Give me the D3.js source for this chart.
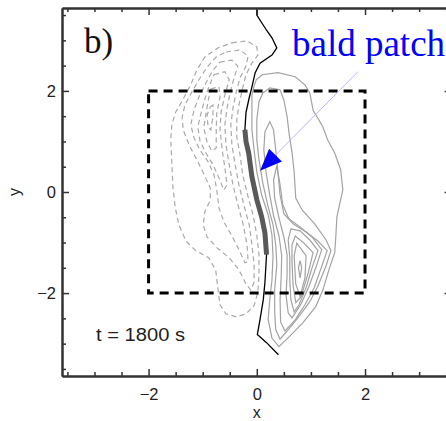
<!DOCTYPE html>
<html>
<head>
<meta charset="utf-8">
<script src="https://cdn.jsdelivr.net/npm/d3@7"></script>
<style>
  body { margin: 0; background: #fff; }
  svg { display: block; }
</style>
</head>
<body>
<svg id="chart" width="446" height="421"></svg>
<script>
// Polarity inversion line, traced top to bottom (x, y in Mm)
const pil = [
  [0.00, 3.64], [0.00, 3.50], [0.18, 3.20], [0.28, 3.05], [0.37, 2.85], [0.28, 2.71],
  [0.06, 2.55], [-0.03, 2.36], [-0.09, 2.08], [-0.15, 1.82], [-0.20, 1.57], [-0.22, 1.23],
  [-0.20, 1.00], [-0.15, 0.77], [-0.09, 0.30], [0.00, -0.15], [0.09, -0.49], [0.15, -0.81],
  [0.18, -1.24], [0.15, -1.79], [0.12, -2.13], [0.06, -2.52], [0.01, -2.82], [0.18, -2.98],
  [0.40, -3.22]
];
// y-extent of the bald-patch section of the inversion line
const baldPatchY = [-1.24, 1.23];

// Positive Bz contours (solid), outermost first
const posContours = [
  [[-0.01,2.22],[0.10,2.32],[0.39,2.36],[0.71,2.28],[0.89,2.12],[0.98,1.96],[1.04,1.62],[1.22,1.29],
   [1.31,1.03],[1.44,0.77],[1.55,0.44],[1.59,0.04],[1.55,-0.15],[1.48,-0.49],[1.46,-0.89],[1.44,-1.20],
   [1.35,-1.48],[1.22,-1.94],[1.09,-2.27],[0.85,-2.59],[0.61,-2.85],[0.41,-3.06],[0.28,-2.89],[0.21,-2.52],
   [0.24,-2.13],[0.28,-1.74],[0.30,-1.28],[0.28,-0.85],[0.21,-0.45],[0.09,-0.06],[0.00,0.40],[-0.05,0.83],
   [-0.09,1.23],[-0.09,1.62],[-0.09,1.92],[-0.05,2.10]],
  [[0.11,1.96],[0.24,2.06],[0.43,2.02],[0.50,1.82],[0.56,1.49],[0.60,1.13],[0.65,0.79],[0.69,0.40],
   [0.72,-0.12],[0.84,-0.36],[1.07,-0.63],[1.28,-0.95],[1.37,-1.16],[1.28,-1.46],[1.13,-1.86],[0.98,-2.17],
   [0.76,-2.49],[0.56,-2.75],[0.43,-2.91],[0.35,-2.72],[0.33,-2.37],[0.33,-1.93],[0.37,-1.44],[0.35,-1.05],
   [0.30,-0.65],[0.20,-0.25],[0.11,0.18],[0.04,0.64],[0.00,1.03],[0.00,1.43],[0.04,1.78]],
  [[0.24,1.39],[0.31,1.23],[0.35,0.83],[0.39,0.40],[0.43,-0.06],[0.50,-0.43],[0.67,-0.63],[0.91,-0.79],
   [1.13,-0.97],[1.30,-1.16],[1.19,-1.50],[1.06,-1.90],[0.89,-2.23],[0.71,-2.53],[0.52,-2.75],[0.44,-2.57],
   [0.43,-2.13],[0.45,-1.70],[0.46,-1.26],[0.41,-0.87],[0.31,-0.47],[0.24,-0.06],[0.17,0.40],[0.13,0.83],
   [0.15,1.19]],
  [[0.37,0.52],[0.43,0.14],[0.48,-0.25],[0.59,-0.53],[0.80,-0.69],[1.02,-0.89],[1.20,-1.14],[1.09,-1.50],
   [0.96,-1.88],[0.82,-2.21],[0.65,-2.49],[0.58,-2.39],[0.54,-2.03],[0.56,-1.64],[0.56,-1.24],[0.50,-0.89],
   [0.41,-0.51],[0.33,-0.12],[0.31,0.24]],
  [[0.63,-0.73],[0.80,-0.77],[0.98,-0.95],[1.13,-1.16],[1.02,-1.50],[0.91,-1.90],[0.78,-2.23],[0.69,-2.37],
   [0.63,-2.13],[0.61,-1.74],[0.61,-1.30],[0.58,-0.95]],
  [[0.71,-0.87],[0.87,-1.01],[1.04,-1.20],[0.95,-1.60],[0.82,-2.07],[0.72,-2.19],[0.67,-1.84],[0.65,-1.38],
   [0.65,-1.05]],
  [[0.74,-1.01],[0.91,-1.26],[0.89,-1.70],[0.80,-2.07],[0.72,-1.82],[0.69,-1.26]],
  [[0.80,-1.36],[0.83,-1.50],[0.80,-1.70],[0.77,-1.50]]
];

// Negative Bz contours (dashed), outermost first
const negContours = [
  [[-0.46,2.95],[-0.18,2.99],[0.00,2.87],[0.02,2.71],[-0.09,2.55],[-0.20,2.32],[-0.27,2.02],[-0.33,1.72],
   [-0.37,1.43],[-0.37,1.09],[-0.31,0.74],[-0.26,0.34],[-0.17,-0.06],[-0.07,-0.45],[0.00,-0.85],[0.04,-1.24],
   [0.04,-1.64],[0.02,-1.98],[-0.05,-2.25],[-0.20,-2.41],[-0.38,-2.47],[-0.57,-2.41],[-0.68,-2.23],[-0.72,-1.90],
   [-0.76,-1.54],[-0.89,-1.30],[-1.13,-1.16],[-1.31,-0.97],[-1.44,-0.65],[-1.51,-0.29],[-1.55,0.10],[-1.57,0.58],
   [-1.59,1.03],[-1.57,1.33],[-1.50,1.58],[-1.39,1.78],[-1.22,2.12],[-1.11,2.41],[-0.96,2.67],[-0.72,2.85]],
  [[-0.57,2.77],[-0.31,2.81],[-0.16,2.69],[-0.20,2.49],[-0.31,2.26],[-0.38,1.98],[-0.44,1.66],[-0.48,1.33],
   [-0.46,0.93],[-0.40,0.54],[-0.33,0.14],[-0.24,-0.25],[-0.14,-0.65],[-0.09,-1.05],[-0.05,-1.44],[-0.05,-1.78],
   [-0.11,-1.94],[-0.20,-1.82],[-0.33,-1.54],[-0.51,-1.30],[-0.74,-1.10],[-0.92,-0.89],[-0.99,-0.65],[-0.96,-0.39],
   [-0.86,-0.16],[-0.86,0.08],[-0.97,0.34],[-1.11,0.64],[-1.25,0.93],[-1.36,1.23],[-1.38,1.47],[-1.33,1.72],
   [-1.20,1.98],[-1.07,2.22],[-0.92,2.47],[-0.75,2.67]],
  [[-0.68,2.57],[-0.46,2.61],[-0.35,2.49],[-0.42,2.26],[-0.49,1.98],[-0.55,1.66],[-0.59,1.33],[-0.57,0.93],
   [-0.51,0.54],[-0.44,0.14],[-0.35,-0.25],[-0.25,-0.65],[-0.18,-1.05],[-0.16,-1.38],[-0.22,-1.40],[-0.33,-1.14],
   [-0.46,-0.87],[-0.61,-0.59],[-0.70,-0.31],[-0.74,0.04],[-0.79,0.34],[-0.90,0.60],[-1.05,0.83],[-1.16,1.07],
   [-1.22,1.33],[-1.16,1.62],[-1.07,1.88],[-0.94,2.16],[-0.81,2.41]],
  [[-0.79,2.32],[-0.59,2.38],[-0.51,2.22],[-0.59,1.92],[-0.66,1.58],[-0.68,1.23],[-0.64,0.83],[-0.59,0.48],
   [-0.55,0.14],[-0.61,0.04],[-0.70,0.28],[-0.81,0.54],[-0.94,0.77],[-1.05,1.01],[-1.09,1.29],[-1.03,1.56],
   [-0.96,1.84],[-0.88,2.10]],
  [[-0.85,2.04],[-0.70,2.08],[-0.68,1.88],[-0.74,1.56],[-0.75,1.23],[-0.75,0.87],[-0.83,0.81],[-0.92,0.99],
   [-0.98,1.27],[-0.94,1.54],[-0.90,1.80]],
  [[-0.86,1.68],[-0.81,1.72],[-0.81,1.49],[-0.85,1.23],[-0.90,1.29],[-0.92,1.52]]
];

// Dashed sub-region and annotation
const boxX = [-2, 2];
const boxY = [-2, 2];
const arrowTail = [1.87, 2.38];
const arrowTip = [0.06, 0.42];
const panelLabel = "b)";
const timeLabel = "t = 1800 s";
const patchLabel = "bald patch";

// Axes
const xDomain = [-3.6, 3.6];
const yDomain = [-3.64, 3.64];
const majorTicks = [-2, 0, 2];
const minorTicks = [-3.5, -3, -2.5, -1.5, -1, -0.5, 0.5, 1, 1.5, 2.5, 3, 3.5];

const sans = "'Liberation Sans', Arial, sans-serif";
const serif = "'Liberation Serif', 'Times New Roman', serif";

const svg = d3.select("#chart");
const x = d3.scaleLinear().domain(xDomain).range([62, 451.6]);
const y = d3.scaleLinear().domain(yDomain).range([376, 8]);
const line = d3.line().x(d => x(d[0])).y(d => y(d[1]));
const closed = d3.line().x(d => x(d[0])).y(d => y(d[1])).curve(d3.curveLinearClosed);

// contours
svg.append("g").selectAll("path").data(negContours).join("path")
  .attr("d", closed).attr("fill", "none")
  .attr("stroke", "#a9a9a9").attr("stroke-width", 1.2)
  .attr("stroke-dasharray", "5,3.5");
svg.append("g").selectAll("path").data(posContours).join("path")
  .attr("d", closed).attr("fill", "none")
  .attr("stroke", "#a3a3a3").attr("stroke-width", 1.2);

// box
svg.append("rect")
  .attr("x", x(boxX[0])).attr("y", y(boxY[1]))
  .attr("width", x(boxX[1]) - x(boxX[0])).attr("height", y(boxY[0]) - y(boxY[1]))
  .attr("fill", "none").attr("stroke", "#000").attr("stroke-width", 3)
  .attr("stroke-dasharray", "9,6");

// inversion line and bald patch
svg.append("path").datum(pil).attr("d", line)
  .attr("fill", "none").attr("stroke", "#000").attr("stroke-width", 1.3);
svg.append("path")
  .datum(pil.filter(p => p[1] >= baldPatchY[0] && p[1] <= baldPatchY[1]))
  .attr("d", line).attr("fill", "none")
  .attr("stroke", "#595959").attr("stroke-width", 5).attr("stroke-linecap", "butt");

// axes (ticks point inward)
const fmt = d3.format("d");
function addAxis(axisGen, transform, ticks, size, pad) {
  const g = svg.append("g").attr("transform", transform)
    .call(axisGen.tickValues(ticks).tickSizeInner(-size).tickSizeOuter(0)
      .tickPadding(pad || 0)
      .tickFormat(pad ? fmt : ""));
  g.select(".domain").attr("stroke", "#333").attr("stroke-width", 2);
  g.selectAll(".tick line").attr("stroke", "#333").attr("stroke-width", 1.5);
  g.selectAll("text").attr("fill", "#222").attr("font-size", 16.5)
    .attr("font-family", sans);
  return g;
}
addAxis(d3.axisBottom(x), `translate(0,${y(yDomain[0])})`, minorTicks, 4, 0);
addAxis(d3.axisBottom(x), `translate(0,${y(yDomain[0])})`, majorTicks, 7, 12);
addAxis(d3.axisTop(x), `translate(0,${y(yDomain[1])})`, minorTicks, 4, 0);
addAxis(d3.axisTop(x), `translate(0,${y(yDomain[1])})`, majorTicks, 7, 0);
addAxis(d3.axisLeft(y), `translate(${x(xDomain[0])},0)`, minorTicks, 4, 0);
addAxis(d3.axisLeft(y), `translate(${x(xDomain[0])},0)`, majorTicks, 7, 6);
addAxis(d3.axisRight(y), `translate(${x(xDomain[1])},0)`, minorTicks, 4, 0);
addAxis(d3.axisRight(y), `translate(${x(xDomain[1])},0)`, majorTicks, 7, 0);

// axis titles
svg.append("text").attr("x", x(0)).attr("y", 418).attr("text-anchor", "middle")
  .attr("font-family", sans).attr("font-size", 16)
  .attr("fill", "#222").text("x");
svg.append("text").attr("transform", `translate(20,${y(0)}) rotate(-90)`)
  .attr("text-anchor", "middle")
  .attr("font-family", sans).attr("font-size", 16)
  .attr("fill", "#222").text("y");

// panel and time labels
svg.append("text").attr("x", 84).attr("y", 53)
  .attr("font-family", serif).attr("font-size", 35)
  .attr("fill", "#111").text(panelLabel);
svg.append("text").attr("x", 96).attr("y", 341)
  .attr("font-family", sans).attr("font-size", 18)
  .attr("textLength", 89).attr("lengthAdjust", "spacingAndGlyphs")
  .attr("fill", "#222").text(timeLabel);

// bald patch annotation
const tx = x(arrowTail[0]), ty = y(arrowTail[1]);
const hx = x(arrowTip[0]), hy = y(arrowTip[1]);
const len = Math.hypot(hx - tx, hy - ty);
const ux = (hx - tx) / len, uy = (hy - ty) / len;
const headL = 22, headW = 9;
const bx = hx - ux * headL, by = hy - uy * headL;
svg.append("line").attr("x1", tx).attr("y1", ty).attr("x2", bx).attr("y2", by)
  .attr("stroke", "#b8b8ff").attr("stroke-width", 1);
svg.append("path")
  .attr("d", `M${hx},${hy}L${bx - uy * headW},${by + ux * headW}L${bx + uy * headW},${by - ux * headW}Z`)
  .attr("fill", "#0000ff");
svg.append("text").attr("x", 292).attr("y", 56)
  .attr("font-family", serif).attr("font-size", 37)
  .attr("fill", "#0000ff").text(patchLabel);
</script>
</body>
</html>
